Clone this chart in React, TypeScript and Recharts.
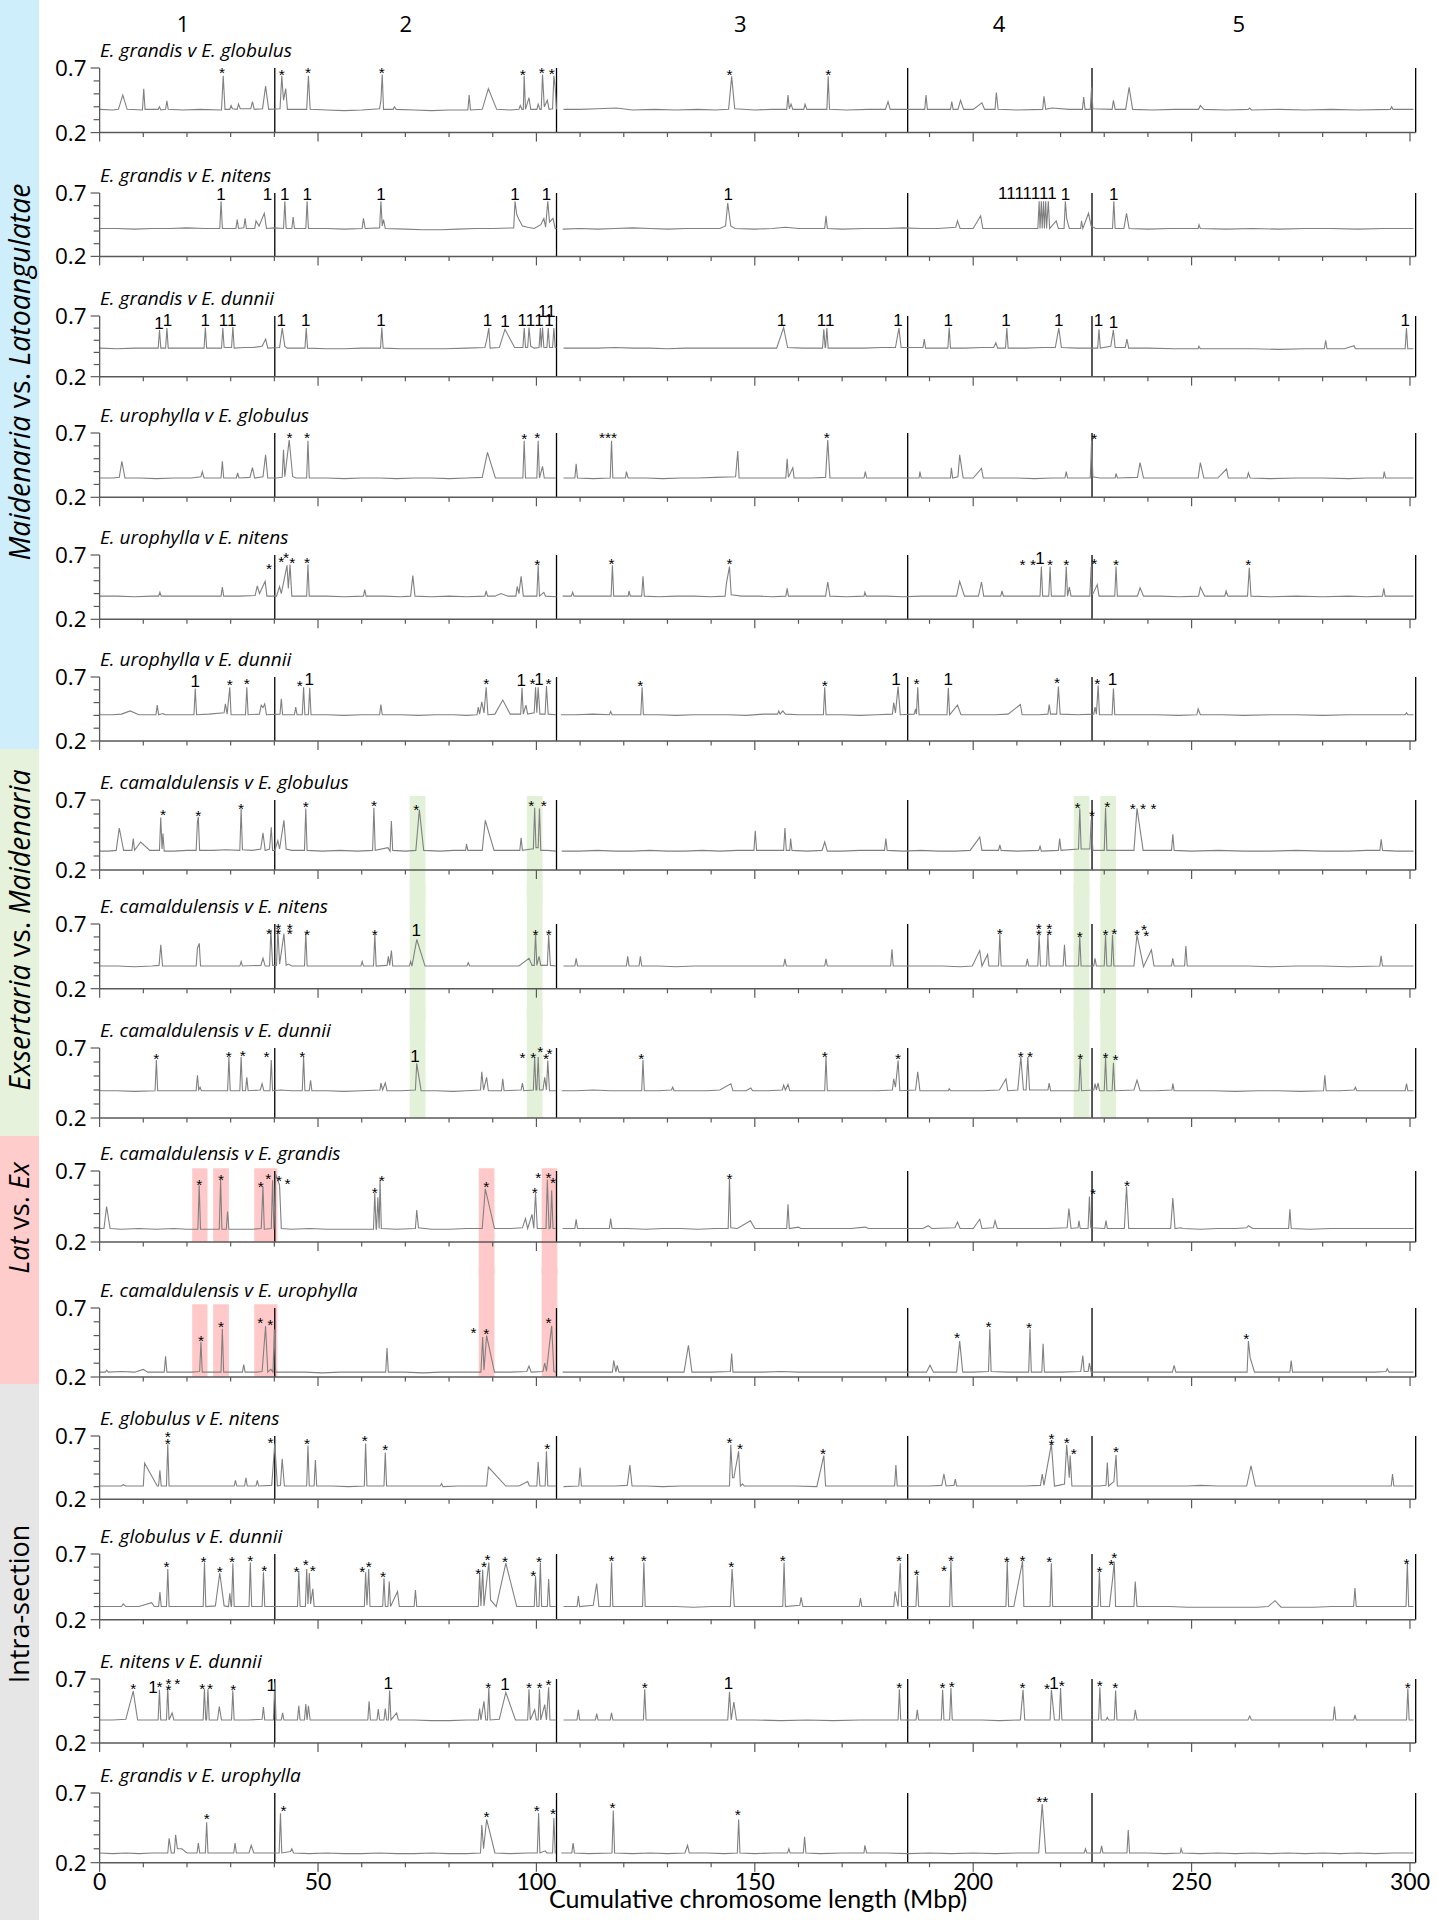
import React from "react";
import {
  LineChart, Line, XAxis, YAxis, ReferenceLine, ReferenceArea, ReferenceDot,
} from "recharts";

// page / scale constants
const W = 1437;
const H = 1920;
const PLOT_LEFT = 99.6;
const PLOT_RIGHT = 1415.7;
const X_MAX = 301.3;
const X_TICKS = [0, 10, 20, 30, 40, 50, 60, 70, 80, 90, 100, 110, 120, 130, 140, 150, 160, 170, 180, 190, 200,
  210, 220, 230, 240, 250, 260, 270, 280, 290, 300];
const Y_TICKS = [0.2, 0.3, 0.4, 0.5, 0.6, 0.7];
const CHROM_ENDS = [40.1, 104.6, 185, 227.2, 301.3];
const CHROM_NAMES = ["1", "2", "3", "4", "5"];
const CHROM_MIDS = [19.1, 70.1, 146.7, 205.9, 260.8];

const LINE = "#808080";
const AXIS = "#595959";
const GREEN = "#e3f1d8";
const PINK = "#ffc9c9";

const TITLES = [
  ["E. grandis", "E. globulus"], ["E. grandis", "E. nitens"], ["E. grandis", "E. dunnii"],
  ["E. urophylla", "E. globulus"], ["E. urophylla", "E. nitens"], ["E. urophylla", "E. dunnii"],
  ["E. camaldulensis", "E. globulus"], ["E. camaldulensis", "E. nitens"], ["E. camaldulensis", "E. dunnii"],
  ["E. camaldulensis", "E. grandis"], ["E. camaldulensis", "E. urophylla"],
  ["E. globulus", "E. nitens"], ["E. globulus", "E. dunnii"], ["E. nitens", "E. dunnii"],
  ["E. grandis", "E. urophylla"],
];
// pixel rows of the 0.7 and 0.2 levels of each panel
const TOPS = [67.7, 193.3, 316, 433, 554.7, 676.7, 800, 924.3, 1047.7, 1170.7, 1307.7, 1435.7, 1554.3, 1679.3, 1793];
const BOTTOMS = [132.3, 256.7, 376.7, 497.3, 619, 740.7, 870, 989, 1117.7, 1241.7, 1376.7, 1499, 1620, 1743.3, 1862.7];

// highlighted windows (Mbp)
const GREEN_STRIPS = [[71.0, 74.6], [97.8, 101.4], [223.0, 226.6], [229.1, 232.7]];
const PINK_SHORT = [[21.2, 24.7], [26.0, 29.6], [35.4, 40.7]];
const PINK_LONG = [[86.8, 90.4], [101.2, 104.8]];

// series: flat pairs of Mbp, value x100 (null = gap)
const P1 = [0,38, 3,37.5, 4.3,38, 5.3,49, 6.3,38, 9.8,37.5, 10.1,54, 10.4,38, 13.4,38, 13.7,40, 14,37.5, 15.1,38, 15.4,44.5, 15.7,38, 19,37.5, 23,38, 27.9,37.5, 28.3,64, 28.7,38, 29.8,38, 30.1,41, 30.4,38.5, 31.5,38, 31.8,42, 32.2,38.5, 34.6,38.5, 35,44, 35.4,38, 37.3,38.5, 38,56, 38.7,38, 41.3,38.5, 41.7,64, 42.1,45, 42.6,54, 43,38, 47.4,38, 47.8,64, 48.2,38, 52,37.5, 56,37, 60,37.5, 64.1,38.5, 64.4,45, 64.7,65, 65,38, 67.2,38, 67.5,40, 67.9,38, 72,37.5, 76,37, 80,37.5, 84.3,37.5, 84.6,49, 84.9,37.5, 87.6,38, 89,54, 90.9,38, 94,37.5, 96,38, 96.3,41, 96.7,38, 97,38, 97.2,64, 97.5,38, 98.3,47, 98.7,38, 100.1,38, 100.4,42, 100.8,38, 101.1,38, 101.4,65, 101.8,40, 102.5,45, 102.9,38, 103.7,38.5, 104,64, 104.3,55, 104.6,38, 105.2,null, 106.2,38, 110,38, 114,38.5, 118.3,39, 122,37.5, 127,38, 132,37.5, 137,38, 141,37.5, 144,38, 144.7,63.5, 145.4,38.5, 150,37.5, 154,38, 157.3,38, 157.6,49, 157.9,38.5, 158.3,42, 158.7,38, 161.2,38, 161.5,42, 161.9,38, 166.5,38, 166.8,63.5, 167.1,38, 171,37.5, 176,38, 179.9,38, 180.5,44, 181,38, 185,38, 188.9,38, 189.2,49, 189.5,38, 194.8,38, 195.1,44, 195.4,38, 196.5,38, 197.1,45, 197.8,38, 200,38, 202,43, 202.6,38, 205,38, 205.3,51, 205.7,38, 210,37.5, 215.9,38, 216.2,48, 216.6,38, 218,39, 222,38, 225,38, 225.3,47.5, 225.6,38, 226.8,38, 227.1,55, 227.4,38.5, 231.8,38, 232.1,45, 232.5,38, 234.9,38, 235.7,55, 236.5,38, 241,37.5, 246,38, 251.6,38, 252,41, 252.8,38, 258,37.5, 263,38, 263.3,39, 263.7,37.5, 270,38, 276,37.5, 282,38, 288,37.5, 295.5,38, 295.8,40, 296.1,38, 300.8,38];
const P2 = [0,42, 4,42, 8,41.5, 12,42, 16,42, 20,42.5, 24,42, 27.5,42, 27.8,63.5, 28.1,42, 31.2,42, 31.5,49, 31.8,42, 33,42.5, 33.3,50, 33.6,42, 35.5,42, 35.8,48, 36.5,44, 37.7,54, 38.2,42, 40,42.5, 42.1,42, 42.4,63.5, 42.7,42, 44,42, 44.3,51, 44.6,42, 47.2,42, 47.5,63.5, 47.8,42, 52,42, 56,41.5, 60.1,42, 60.4,50, 60.8,42, 64.1,42.5, 64.4,63.5, 64.7,44, 65,49, 65.4,42, 70,41.5, 74,41, 78,41, 82,41.5, 86,42, 90,42, 94.8,42.5, 95.1,63.5, 95.5,53, 96,49, 96.8,44, 98,43, 99.5,42, 101,45, 101.7,50, 102.1,43, 102.6,63.5, 103,47, 103.8,50, 104.3,42, 104.6,42, 105.2,null, 106,41.5, 110,42, 114,41.5, 118,42, 122,42.5, 126,42, 130,41.5, 134,42, 138,42, 142,42, 143.3,44, 143.8,62, 144.5,44, 145.5,42, 150,41.5, 154,42, 157,43, 160,42, 163,42, 166,42, 166.3,52, 166.6,42, 170,41.5, 175,42, 180,42, 184,42.5, 188,42, 192,42, 196,43, 196.4,48, 197,42, 200,42, 201.7,52, 202.2,42, 206,42, 210,42, 214.8,42, 215.1,63.5, 215.3,42, 215.6,63.5, 215.8,42, 216.1,63.5, 216.3,42, 216.6,63.5, 216.8,42, 217.2,63.5, 217.5,42, 219,48, 219.5,42, 220.8,42, 221.1,63.5, 221.4,50, 222,42, 224.6,42, 224.8,48, 225.1,42, 226.4,54, 227,44, 228,42, 231.9,42, 232.2,63.5, 232.5,42, 234.5,42, 235.1,54, 235.7,42, 240,41.5, 245,42, 251.5,42, 251.7,45, 252,42, 258,41.5, 264,42, 270,41.5, 276,42, 282,42, 288,41.5, 294,42, 300.8,42];
const P3 = [0,43.5, 4,43, 8,43.5, 12,43.5, 13.4,43.5, 13.7,58.5, 14,43.5, 15.1,43.5, 15.4,60, 15.7,43.5, 19,43.5, 23.9,43.5, 24.2,60.5, 24.5,43.5, 27.9,43.5, 28.2,60, 28.5,44, 30.2,44, 30.5,61, 30.8,43.5, 33,44, 35,44, 37.2,45, 38,51, 38.5,43.5, 41.2,44, 41.8,60, 42.4,45, 43,43.5, 47,43.5, 47.3,60, 47.6,43.5, 52,43, 56,43, 60,43.5, 64.3,43.5, 64.6,60.5, 64.9,43.5, 69,43, 74,43, 79,43, 84,43.5, 88.2,44, 88.6,50, 89.1,60, 89.4,43.5, 91.5,44, 92.8,59, 95,44, 96.9,44, 97.2,60, 97.5,44, 98,44, 98.3,60.5, 98.7,45, 99.5,43.5, 100.6,44, 100.9,60, 101.1,44, 101.4,60.5, 101.7,44, 102.4,44, 102.7,60, 103,44, 103.7,44, 104,60, 104.3,44, 104.6,44, 105.2,null, 106.2,43.5, 110,43.5, 114,43.5, 118,44, 122,43.5, 126,43.5, 130,43, 134,43.5, 138,43.5, 142,43.5, 146,43.5, 150,43.5, 155,43.5, 156.6,60.5, 157.5,44, 161,43.5, 165.5,43.5, 165.8,59, 166.1,44, 166.2,44, 166.5,60, 166.8,43.5, 170,43.5, 175,43.5, 179,44, 182.2,44, 183,60, 183.5,44, 186,44, 188.5,44, 188.8,51, 189.1,43.5, 192,43.5, 194.2,43.5, 194.5,60.5, 194.8,43.5, 198,43.5, 202,44, 204.7,44, 205.2,48, 205.6,43.5, 207.4,43.5, 207.7,60, 208,43.5, 212,43.5, 216,44, 218.8,44, 219.6,60, 220.2,44, 224,43.5, 228.5,43.5, 228.8,59, 229.1,43.5, 231.5,45, 232.1,58.5, 232.5,44, 234.8,44, 235.2,51, 235.6,43.5, 240,43.5, 246,43, 251.5,43, 251.7,45, 252,43, 258,43, 264,43, 270,42.5, 276,43, 280.4,43, 280.7,50, 281,43, 285,43, 287.2,45.5, 287.5,43, 292,43, 296,43, 298.9,43, 299.2,60, 299.5,43, 300.8,43];
const P4 = [0,35, 3,35, 4.5,35.5, 5.1,48, 5.8,35, 9,35, 13,34.5, 17,35, 21,35, 23.2,36, 23.5,40, 23.9,35, 27.8,35, 28.1,48, 28.4,35, 31.3,35, 31.6,39, 31.9,35, 34.4,35.5, 35,43, 35.5,35, 37.4,36, 38,53, 38.5,35, 40.5,35, 41.8,35.5, 42.1,57, 42.4,36, 43.4,64.5, 44.2,36, 45,35, 47.4,35, 47.7,64, 48,35, 52,35, 56,34.5, 60,35, 64,35, 68,34.5, 72,35, 76,35, 80,34.5, 84,35, 87.6,35.5, 88.8,55, 90.6,35, 94,35, 96.9,35, 97.2,64, 97.5,35, 100.1,35, 100.4,64, 100.7,35, 101.4,44, 101.8,35, 104.4,35, 105.2,null, 106.2,35, 108.8,35, 109.1,46, 109.4,35, 113,34.5, 116.9,35, 117.2,64, 117.5,35, 120.4,35, 120.6,40, 121,35, 125,35, 129,34.5, 133,35, 137,35, 141,35.5, 145.6,36, 146.1,56, 146.4,35, 150,35, 154,35, 157.1,35, 157.4,50, 157.7,35.5, 158.7,43, 159,35, 163,35, 166.2,35.5, 166.7,64.5, 167.2,35, 171,35, 175,35, 175.3,40, 175.6,35, 180,35, 184,35, 187.6,35, 187.8,40, 188.1,35, 192,35, 194.8,35, 195,43, 195.3,35, 196.5,36, 196.9,53, 197.7,35, 200,35, 201.9,42.5, 202.3,35, 206,35, 210,35, 214,34.5, 218,35, 221,35, 221.3,40, 221.6,35, 224,35, 226.8,35, 227.1,64, 227.4,36, 229,35, 232.5,35, 232.7,38.5, 233,35, 237.6,35.5, 238.2,47, 239,35, 243,35, 247,35, 251.5,35, 252,47, 252.8,35, 256,35, 258,42, 258.4,35, 262.7,35, 263,39, 263.4,35, 268,34.5, 274,35, 280,35, 286,34.5, 290,35, 293.9,35, 294.1,40, 294.4,35, 296,35, 300.8,35];
const P5 = [0,38, 4,38, 8,37.5, 12,38, 13.5,38, 13.8,41, 14.1,38, 18,38, 22,38, 25,38, 27.8,38, 28.1,45, 28.4,38, 32,38, 35.6,38.5, 36.1,46, 36.6,40, 37.9,49.5, 38.3,38, 40.5,38, 41.2,45.5, 41.6,40, 42.9,62, 43.2,44, 43.6,62.5, 44,38, 47.4,38, 47.7,62.5, 48,38, 52,38, 56,37.5, 60.4,38, 60.7,43, 61,38, 65,38, 69,37.5, 71.2,38, 71.7,54, 72.2,38, 76,37.5, 80,38, 84,37.5, 88.2,38, 88.5,42, 88.8,38, 90.5,38, 91.9,40, 93.5,38, 95.3,38, 95.6,45.5, 96,40, 96.5,53.5, 97,38, 100.1,38, 100.4,62, 100.7,38, 101.7,41, 102.1,38, 104.6,37.5, 105.2,null, 106,38, 108,38, 108.3,41, 108.6,38, 112,38, 117.1,38, 117.4,62, 117.7,38, 121,38, 121.2,42, 121.5,38, 124.1,38, 124.4,53.5, 124.7,38, 128,37.5, 132,38, 136,38, 140,37.5, 143.2,38, 143.5,48, 144.2,61, 144.6,39, 147,38, 151,38, 154,37.5, 157.1,38, 157.4,44, 157.7,38, 162,38, 166.2,38, 166.7,49, 167.2,38, 171,37.5, 175,38, 175.2,41, 175.5,38, 180,38, 184,37.5, 188,38, 192,38, 196.2,38, 196.9,49.5, 198,38, 201.2,38, 201.9,49, 202.4,38, 206.3,38, 206.6,42, 206.9,38, 210,38, 215.3,38, 215.6,61, 215.9,38, 217.3,38, 217.6,61, 217.9,38, 221,38, 221.3,61, 221.6,38, 222,45, 222.4,38, 226.7,38, 227,61, 227.3,39, 228.4,47, 228.8,38, 232.4,38, 232.7,61, 233,38, 237.6,38, 238.2,44.5, 239,38, 243,38, 247,37.5, 251.6,38, 252,45, 253,38, 257.6,38, 257.9,42, 258.3,38, 262.8,38, 263.2,60, 263.6,38, 268,37.5, 274,38, 280,37.5, 286,38, 290,37.5, 293.7,38, 294,44, 294.3,38, 297,38, 300.8,38];
const P6 = [0,40.5, 3,40.5, 5,41, 7,43.5, 9,40.5, 12.9,40.5, 13.2,48, 13.5,40.5, 14.5,41.5, 15,40.5, 18,40.5, 21.6,40.5, 21.9,61, 22.2,40.5, 25,41, 28.5,42, 28.8,49, 29.2,41, 29.8,62, 30.1,40.5, 33.4,40.5, 33.7,62, 34,40.5, 36.6,41, 37,48, 37.4,46, 37.8,49, 38.2,40.5, 41.3,41, 41.6,53, 41.9,40.5, 44.6,40.5, 44.9,46.5, 45.2,40.5, 46.4,40.5, 46.7,62, 47,40.5, 47.8,40.5, 48.1,61.5, 48.4,40.5, 52,40.5, 56,40, 60,40.5, 64.1,40.5, 64.4,48.5, 64.7,40.5, 69,40.5, 73,40, 77,40.5, 81,40.5, 84,40, 86.4,40.5, 86.7,46.5, 87,41, 87.5,50.5, 88,42, 88.5,62, 88.9,40.5, 90.5,41, 92.3,52, 94,41, 96.4,41, 96.7,61.5, 97,41, 97.6,48, 98,41, 99.5,42, 99.8,62, 100.1,42, 100.4,62, 100.8,41, 102,41, 102.3,63, 102.7,41, 104.5,40.5, 105.2,null, 105.6,40.5, 109,40.5, 113,41, 116.7,40.5, 117,43, 117.3,40.5, 121,40.5, 123.9,40.5, 124.2,62, 124.5,40.5, 128,40.5, 132,40, 136,40.5, 140,40.5, 144,40.5, 148,40, 152,41, 155.2,41, 155.5,43.5, 155.8,41, 156.4,43.5, 157,41, 160,40.5, 163,40.5, 165.7,40.5, 166,62, 166.3,40.5, 170,40.5, 174,40, 178,40.5, 181.5,41, 181.8,50, 182.2,42, 182.8,62.5, 183.3,40.5, 186.5,41, 186.8,45, 187,41, 187.3,62, 187.6,40.5, 190,40.5, 194,40.5, 194.3,61.5, 194.6,40.5, 196.4,48, 197.2,40.5, 201,40.5, 205,40.5, 208,41, 210.8,48.5, 211.2,40.5, 215,40.5, 217.1,41, 217.4,48.5, 217.7,41, 219.1,41, 219.5,62.5, 219.9,41, 224,40.5, 227.6,41, 227.9,46.5, 228.2,41, 228.6,63.5, 228.9,40.5, 231.8,40.5, 232.1,61, 232.4,40.5, 237,40.5, 242,40.5, 247,40, 251.2,40.5, 251.5,45, 252,40.5, 257,40.5, 262,40, 268,40.5, 274,40.5, 280,40, 286,40.5, 292,40.5, 298.9,40.5, 299.2,42, 299.5,40.5, 300.8,40.5];
const P7 = [0,33.5, 2,33.5, 3.8,34, 4.5,50, 5.5,34, 7.4,34, 7.7,42.5, 8,34, 9.4,40, 11.5,34, 13.7,34, 14,57.5, 14.3,35, 14.5,46, 14.8,33.5, 17,33.5, 20,34, 22.1,34, 22.4,54.5, 22.6,58, 22.9,34, 26,34, 29,34.5, 32.1,34, 32.4,63.5, 32.7,34.5, 35,34, 36.9,35, 37.4,46.5, 37.9,34, 38.9,35, 39.3,50.5, 39.6,34, 40.1,34, 40.8,41, 41.2,35, 42.2,55.5, 42.7,35, 44,34, 46.9,34, 47.2,64, 47.5,34, 51,33.5, 55,34, 59,33.5, 62.5,34, 62.8,64.5, 63.1,34, 66,36, 66.5,33.5, 66.8,55, 67.1,34, 70,33.5, 72.4,34, 73.2,63, 74.2,34, 78,33.5, 81,34, 83.8,34, 84,38.5, 84.3,34, 87.6,34, 88.3,55.5, 90.3,34, 93,34, 96.2,34, 96.5,43, 96.8,34, 98.8,35, 99.3,35, 99.6,64.5, 99.9,36, 100.4,36, 100.7,64, 101,34, 102.5,34, 104.5,33.5, 105.2,null, 105.8,33.5, 110,33.5, 114,34, 118,33.5, 122,33.5, 126,34, 130,33.5, 134,33.5, 138,34, 142,33.5, 146,34, 149.8,34, 150.1,48, 150.4,34, 154,34, 156.6,34, 156.9,50, 157.2,34, 158,34, 158.2,42.5, 158.5,34, 162,33.5, 165.4,34, 166,40, 166.6,33.5, 170,33.5, 174,34, 179.7,34, 180,42.5, 180.3,34, 184,33.5, 188,34, 192,33.5, 196,33.5, 199.3,34, 201.5,43.5, 202,34, 205.8,34, 206.1,38, 206.4,34, 210,33.5, 215,34, 215.3,37, 215.6,33.5, 219.5,34, 219.8,42.5, 220.1,34, 224.1,35, 224.4,64, 224.7,35, 226.7,35, 227,56, 227.4,34, 230,34, 230.3,64.5, 230.6,34, 234,34, 236.8,34, 237.5,64, 238.9,34, 242,34, 245.4,34, 245.7,45.5, 246,34, 250,33.5, 256,34, 262,33.5, 268,33.5, 274,34, 280,33.5, 286,33.5, 290,34, 293.1,34, 293.4,42, 293.7,34, 297,33.5, 300.8,33.5];
const P8 = [0,37.5, 4,37.5, 8,37, 12,37.5, 13.6,38, 14,54, 14.4,37.5, 18,37.5, 22.1,37.5, 22.4,51.5, 22.8,55, 23.1,37.5, 27,37.5, 32.1,37.5, 32.4,41, 32.7,37.5, 36.9,38, 37.4,43.5, 37.9,37.5, 38.9,37.5, 39.2,65.5, 39.6,38, 40.5,38, 40.8,65.5, 41.2,39, 42.2,62.5, 42.7,38, 43.2,39, 44,37.5, 46.9,37.5, 47.2,63, 47.5,37.5, 52,37.5, 56,37.5, 59.8,37.5, 60.1,41, 60.4,37.5, 62.7,37.5, 63,62.5, 63.3,37.5, 65.8,38, 66.1,45, 66.4,38, 66.8,49.5, 67.1,37.5, 70.9,37.5, 71.2,41, 71.5,37.5, 72.6,58, 74.5,37.5, 78,37.5, 82,37.5, 84.1,37.5, 84.4,40, 84.7,37.5, 88,37.5, 92,37.5, 96,37.5, 98.3,43.5, 99,38, 99.5,38, 99.8,62.5, 100.1,38, 100.6,45, 101,38, 102.5,38, 102.8,61.5, 103.2,38, 104.5,37.5, 105.2,null, 106.2,37.5, 108.8,37.5, 109.1,43.5, 109.4,37.5, 113,37.5, 117,37.5, 120.6,37.5, 120.9,45, 121.2,37.5, 123.5,37.5, 123.8,45, 124.1,37.5, 128,37.5, 132,37, 136,37.5, 140,37.5, 144,37.5, 148,37.5, 152,37.5, 156.6,37.5, 156.9,43, 157.2,37.5, 161,37.5, 166,37.5, 166.3,43, 166.6,37.5, 171,37.5, 176,37.5, 181.1,37.5, 181.4,50.5, 181.7,37.5, 185,37.5, 189,37.5, 193,37.5, 197,37, 199.8,37.5, 201.5,49.5, 202,37.5, 203.3,46.5, 203.6,37.5, 205.8,37.5, 206.1,62.5, 206.4,37.5, 210,37.5, 212.1,37.5, 212.4,43, 212.7,37.5, 214.8,37.5, 215.1,61.5, 215.4,37.5, 216.8,37.5, 217.1,62.5, 217.4,37.5, 220.6,37.5, 220.9,54, 221.2,37.5, 224.1,37.5, 224.4,60.5, 224.7,37.5, 227.6,37.5, 227.9,43.5, 228.2,37.5, 230,37.5, 230.3,61.5, 230.6,37.5, 231.6,37.5, 231.9,61.5, 232.2,37.5, 236.8,37.5, 237.5,61.5, 239,37, 240.8,50, 241.4,37.5, 245.4,37.5, 245.7,43.5, 246,37.5, 248.4,37.5, 248.7,53, 249,37.5, 253,37.5, 258,37.5, 263,37.5, 268,37, 274,37.5, 280,37.5, 286,37, 293.1,37.5, 293.4,45.5, 293.7,37.5, 297,37.5, 300.8,37.5];
const P9 = [0,39.5, 4,39.5, 8,39, 12.7,39.5, 13,61.5, 13.3,39.5, 16,39.5, 19,39.5, 22.1,39.5, 22.4,50.5, 22.7,40, 23,42, 23.3,39.5, 26,39.5, 29.3,39.5, 29.6,63.5, 29.9,39.5, 32.1,39.5, 32.4,63.5, 32.7,39.5, 33.4,39.5, 33.7,49, 34,39.5, 36.8,40, 37.2,44.5, 37.6,39.5, 39,39.5, 39.3,61.5, 39.6,39.5, 41.5,40, 44,39.5, 46.4,39.5, 46.7,63.5, 47,39.5, 48,39.5, 48.3,47, 48.6,39.5, 52,39.5, 56,39, 60,39.5, 64.2,40, 64.4,45, 64.8,40, 65.4,45, 65.8,39.5, 69,39.5, 72.3,40, 72.6,59, 73.6,39.5, 77,39.5, 81,39, 84,39.5, 87.2,40, 87.5,53, 87.9,40, 88.6,49, 89,39.5, 92,39.5, 92.3,48, 92.6,39.5, 96.5,40, 96.8,45, 97.1,39.5, 99.3,40, 99.6,63.5, 99.9,40, 100.1,40, 100.4,63.5, 100.7,40, 101.5,40, 101.9,49, 102.3,40, 102.6,61, 103,39.5, 104.5,39.5, 105.2,null, 105.8,39.5, 109,39.5, 113,40, 117,39.5, 121,39.5, 124.1,39.5, 124.4,61.5, 124.7,39.5, 128,39.5, 130.9,40, 131.2,42, 131.5,39.5, 135,39.5, 139,39.5, 142,40, 144.5,44.5, 145,39.5, 148,39.5, 149.1,41.5, 149.5,39.5, 153,39.5, 156.3,40, 156.6,43.5, 157,40, 157.6,44, 158,39.5, 162,39.5, 166,39.5, 166.3,63.5, 166.6,39.5, 170,39.5, 174,39.5, 178,39.5, 181.5,40, 181.8,48, 182.2,42, 182.8,61, 183.2,39.5, 186.8,40, 187.3,53, 187.8,39.5, 191,39.5, 194.3,39.5, 194.5,41, 194.8,39.5, 198,39.5, 202,39.5, 206,40, 207.5,48, 207.9,39.5, 210.2,40, 210.9,63.5, 211.5,40, 212.1,40, 212.5,63.5, 212.9,40, 217.1,40, 217.4,45, 217.7,39.5, 221,39.5, 224.2,39.5, 224.5,62.5, 224.8,39.5, 227.6,40, 227.9,44.5, 228.2,40, 228.6,45, 228.9,39.5, 230,39.5, 230.3,63.5, 230.6,39.5, 231.8,39.5, 232.1,59.5, 232.4,39.5, 236.8,40, 237.5,47, 238.2,39.5, 242,39.5, 245.5,40, 245.7,44.5, 246,39.5, 250,39.5, 255,39.5, 260,39, 265,39.5, 270,39.5, 275,39, 280.2,39.5, 280.5,50.5, 280.8,39.5, 284,39.5, 287.2,40, 287.5,42, 287.8,39.5, 292,39.5, 296,39.5, 298.9,39.5, 299.2,44.5, 299.5,39.5, 300.8,39.5];
const P10 = [0,29.5, 1,29.5, 1.6,45, 2.4,29.5, 5,29, 9,29.5, 13,29, 17,29.5, 20,29, 22.5,29, 22.8,60, 23.1,29, 25,29, 27.4,29, 27.7,64, 28,29, 29,29, 29.3,41.5, 29.6,29, 32,29, 35,29, 37,29.5, 37.4,59, 37.7,29, 39.3,29.5, 39.6,63.5, 39.9,29, 40.3,68, 41.2,60, 41.6,29.5, 44,29, 48,29.5, 52,29, 56,29, 60,29, 62.7,29, 63,54.5, 63.3,29, 63.4,29, 63.7,51.5, 64,29.5, 64.2,64, 64.5,29.5, 68,29, 72.3,29.5, 72.6,42.5, 73,30, 76,29, 80,29, 84,29.5, 87.6,29.5, 88.3,57.5, 90.4,29.5, 94,29.5, 96.8,30, 97.5,36.5, 98,29.5, 99,39.5, 99.4,29.5, 99.8,54.5, 100.2,29.5, 102.2,29.5, 102.5,64, 102.9,29.5, 103.2,30, 103.5,56.5, 103.8,29.5, 104.4,29.5, 105.2,null, 106,29.5, 108.8,29.5, 109.1,36, 109.4,29.5, 113,29.5, 116.7,29.5, 117,36.5, 117.3,29.5, 121,29.5, 125,29, 129,29.5, 133,29.5, 137,29, 141,29.5, 143.9,29.5, 144.2,64.5, 144.5,30, 146,29.5, 149,35, 150,29.5, 154,29.5, 157.3,29.5, 157.6,46.5, 157.9,29.5, 160,30.5, 160.5,29.5, 164,29.5, 168,29.5, 172,29.5, 175.3,30.5, 176,29.5, 180,29.5, 184,29.5, 188.5,29.5, 189.7,31.5, 190.5,29.5, 195.8,30, 196.4,34, 197,29.5, 200,29.5, 201.5,36, 202,29.5, 204.6,30, 205,35, 205.5,29.5, 209,29.5, 213,29.5, 217,29.5, 221.5,30, 221.9,43.5, 222.4,29.5, 224,30, 224.2,35, 224.5,29.5, 226.3,29.5, 226.6,52, 226.9,30, 230.1,29.5, 230.4,35, 230.7,29.5, 234.6,29.5, 235.1,59, 235.6,29.5, 240,29.5, 245.2,29.5, 245.7,51, 246.2,29.5, 247.5,30, 248,29.5, 252,29, 256,29.5, 260,29.5, 262.6,30, 263,31.5, 264,29.5, 268,29.5, 272.2,29.5, 272.5,43, 272.8,29.5, 277,29, 282,29.5, 287,29.5, 292,29.5, 296,29.5, 300.8,29.5];
const P11 = [0,23.5, 1.3,23.5, 1.6,25, 2,23.5, 5,24, 8,23.5, 10,25.5, 11,23.5, 14.8,23.5, 15.1,35, 15.4,23.5, 18,23.5, 21,23.5, 22.9,24, 23.2,45.5, 23.5,23.5, 25,23.5, 27.8,23.5, 28.1,55, 28.4,23.5, 30,23.5, 32.7,23.5, 33,29, 33.3,23.5, 36,23.5, 37.2,24, 38,57, 38.5,23.5, 39.2,25.5, 39.7,23.5, 40,54.5, 40.3,23.5, 43,23.5, 47,23.5, 51,23, 55,23.5, 59,23.5, 63,23.5, 65.5,23.5, 65.8,41, 66.1,23.5, 70,23.5, 74,23, 78,23.5, 82,23.5, 86,23.5, 87.3,23.5, 87.7,49, 88,25, 88.6,50, 90.4,23.5, 94,23.5, 97.8,24, 98.3,28, 98.8,23.5, 101.5,24, 101.9,30, 102.3,24, 103,44, 103.5,57, 104,24, 104.5,23.5, 105.2,null, 106,23.5, 110,23.5, 114,23.5, 117.4,23.5, 117.7,32, 118.2,23.5, 118.5,28.5, 118.9,23.5, 122,23.5, 126,23.5, 130,23.5, 133.8,23.5, 134.8,43, 135.6,23.5, 140,23.5, 144.4,24, 144.7,37, 145,23.5, 148,23.5, 152,23.5, 156,24, 160,23.5, 164,23.5, 168,23.5, 172,23.5, 176,23.5, 180,23.5, 184,23.5, 189.3,23.5, 190.1,28.5, 190.9,23.5, 196.2,23.5, 196.9,46, 197.6,23.5, 200,23.5, 203.5,24, 203.8,54.5, 204.1,24, 208,23.5, 212.7,23.5, 213,54.5, 213.3,23.5, 215.7,23.5, 216,44, 216.3,23.5, 220,23.5, 224.6,24, 224.8,28, 225.1,35.5, 225.4,24, 226.3,24, 226.6,30, 227,23.5, 230,23.5, 234,23.5, 238,23.5, 242,23.5, 245.6,23.5, 246,28.5, 246.4,23.5, 250,23.5, 254,23.5, 258,23.5, 262.7,23.5, 263,46, 263.4,34, 264.4,23.5, 268,23.5, 272.5,23.5, 272.8,32, 273.1,23.5, 277,23.5, 282,23.5, 287,23.5, 292,23.5, 294.5,24, 294.8,26, 295.2,23.5, 300.8,23.5];
const P12 = [0,30.5, 3,30.5, 5,30.5, 5.4,31.5, 6,30.5, 8,30.5, 10,30.5, 10.3,48.5, 13.2,30.5, 13.5,30.5, 13.8,43, 14.1,30.5, 15.3,30.5, 15.6,63.5, 15.9,30.5, 19,30.5, 23,30.5, 27,30.5, 30.8,30.5, 31.1,35, 31.4,30.5, 33.2,30.5, 33.5,37, 33.8,30.5, 35.8,30.5, 36.1,35, 36.4,30.5, 39.4,31, 40.1,64, 40.7,30.5, 41.4,31, 41.8,52, 42.3,30.5, 45,30.5, 47.4,30.5, 47.7,62.5, 48,30.5, 49.1,30.5, 49.4,51, 49.7,30.5, 53,30.5, 57,30, 60.6,30.5, 60.9,64, 61.2,30.5, 65.1,30.5, 65.4,57, 65.7,30.5, 69,30.5, 73,30.5, 78,30.5, 78.3,32.5, 78.6,30, 82,30.5, 86,30.5, 88.6,30.5, 89,45.5, 93,30.5, 96,30.5, 98,34, 98.4,30.5, 100.1,30.5, 100.4,49.5, 100.8,30.5, 102,30.5, 102.3,58, 102.6,30.5, 104.5,30.5, 105.2,null, 106.2,30, 109.7,30.5, 110,45, 110.3,30.5, 114,30.5, 118,30.5, 120.8,31, 121.4,47, 121.9,30.5, 125,30.5, 129,30, 133,30.5, 137,30.5, 141,30.5, 144.2,30.5, 144.5,63, 144.9,37, 145.2,37, 146.3,58, 146.7,30.5, 147.2,32, 147.6,30.5, 151,30.5, 155,30.5, 159,30.5, 164.2,30, 165.8,54.5, 166.2,30.5, 170,30.5, 174,30.5, 178,30.5, 182,30.5, 182.3,47, 182.6,30.5, 186,30.5, 190,30.5, 192.8,31, 193.3,40, 193.8,30.5, 195.6,31, 195.9,36, 196.2,30.5, 200,30.5, 204,30.5, 208,30.5, 212,30.5, 215.4,31, 215.8,40, 216.2,31, 217.9,64, 218.6,30.5, 219.5,31, 220.9,32, 221.4,63, 222,37, 222.2,54.5, 222.6,30.5, 226,30.5, 229,30.5, 230.4,31, 230.7,49, 231,30.5, 232.2,34, 232.7,55, 233,30.5, 237,30.5, 241,30.5, 245,30.5, 249,30.5, 252,31, 256,30.5, 260,30.5, 262.6,30.5, 263.6,46.5, 264.6,30.5, 269,30.5, 274,30.5, 279,30.5, 284,30.5, 289,30.5, 293,30.5, 295.7,30.5, 296,40, 296.3,30.5, 300.8,30.5];
const P13 = [0,30, 3,30, 5,30, 5.4,32, 6,30, 9,30, 11.9,33, 12.5,30, 13.5,30, 13.8,41, 14.1,30, 15.3,30, 15.6,58.5, 15.9,30, 19,30, 23.7,30, 24,63.5, 24.3,30, 26.5,30.5, 27.5,55.5, 28.5,30.5, 29.5,30, 29.8,40, 30.1,30, 30.2,30, 30.5,63, 30.8,30, 34.2,30, 34.5,63.5, 34.8,30, 37.2,30, 37.5,56, 37.8,30, 41,30, 45.3,30, 45.6,57, 45.9,30, 47.1,30, 47.4,58.5, 47.7,32, 48,55.5, 48.3,32, 48.8,43.5, 49.1,30, 53,30, 57,30, 60.6,30, 60.9,56, 61.2,31, 61.6,58.5, 61.9,30, 64.8,30, 65.1,51.5, 65.4,30, 66,30, 66.3,49, 66.6,30, 68.2,41.5, 68.6,30, 72,30, 72.3,42.5, 72.6,30, 76,30, 80,30, 84,30, 86.7,30, 87,55, 87.3,30.5, 87.7,58, 88,30.5, 89.1,63.5, 89.5,35, 90.8,30, 93,63, 95.5,30, 99.5,30, 99.8,53, 100.1,30, 100.6,30, 100.9,63.5, 101.2,30, 102.5,30, 102.8,51, 103.1,30, 104.5,30, 105.2,null, 106.2,30, 109.3,30, 109.6,38, 109.9,30, 113,31, 113.8,47.5, 114.3,30, 116.9,30, 117.2,63.5, 117.5,30, 121,30, 124.3,30, 124.6,63.5, 124.9,30, 128,30, 132,30, 136,29.5, 140,30, 144.4,30, 144.8,58.5, 145.3,30, 149,30, 153,30, 156.4,30, 156.7,63.5, 157,30, 160.3,31, 160.6,37, 161,30, 165,30, 169,30, 173.9,30, 174.2,36.5, 174.5,30, 178,30, 181.8,30, 182.1,41.5, 182.8,30, 183.3,63, 183.6,30, 186.9,30, 187.2,53.5, 187.5,30, 191,30, 194.6,30, 194.9,64.5, 195.2,30, 199,30, 203,30, 207.5,30, 207.8,64.5, 208.1,30, 209.3,30, 211.3,64.5, 211.6,30, 215,30, 217.6,30, 217.9,63, 218.2,30, 222,30, 226,30, 228.6,30, 228.9,56, 229.2,30, 231.2,30, 231.9,50.5, 232.3,64, 232.6,30, 236.8,30, 237.1,49, 237.5,30, 241,30, 245,30, 249,29.5, 253,29.5, 257,29.5, 261,29.5, 265,29.5, 267.5,30, 269.1,34.5, 270.5,29.5, 274,29.5, 278,29.5, 282,30, 287.1,30, 287.4,44, 287.7,30, 291,30, 295,30, 299.1,30, 299.4,63.5, 299.7,30, 300.8,30];
const P14 = [0,38, 3,38, 6,38.5, 7.7,60.5, 8.7,38, 12,38, 13.4,38, 13.7,61.5, 14,38, 15.3,38, 15.6,63, 15.9,38, 16.6,43.5, 17,38, 20,38, 23.7,38, 24,62, 24.3,38, 24.5,38, 24.8,62, 25.1,38, 27,38, 27.4,48.5, 27.9,38, 30.2,38, 30.5,61, 30.8,38, 34,38, 37.2,38.5, 37.5,48, 37.8,38, 39.8,38, 40.1,67.5, 40.4,38, 41.6,38, 41.9,43.5, 42.2,38, 45.3,38, 45.6,49, 45.9,38, 46.9,38, 47.2,50.5, 47.5,38, 47.8,49, 48.2,38, 50,38, 54,38, 58,38, 61.4,38, 61.7,52.5, 62,38, 63.5,38, 63.8,46.5, 64.1,38, 65.1,38, 65.4,47, 65.7,38, 66.1,38, 66.4,61, 66.7,38, 68,43.5, 68.4,38, 72,38, 76,37.5, 80,37.5, 84,38, 86.7,38, 87,47, 87.3,38, 88,52.5, 88.4,38, 88.8,38, 89.1,63, 89.4,38, 91.5,38.5, 93,59.5, 95.2,38, 98,38, 98.3,62, 98.6,38, 99.6,46, 100,38, 100.4,38, 100.7,62, 101,38, 101.9,50, 102.3,38, 102.8,63.5, 103.1,38, 104.5,38, 105.2,null, 106.2,38, 109.3,38, 109.6,46, 109.9,38, 113.5,38, 113.8,43, 114.1,38, 116.9,38, 117.2,43.5, 117.5,38, 121,38, 124.5,38, 124.8,62, 125.1,38, 128,38, 132,38, 136,38, 140,38, 143.8,38, 144.2,60, 144.6,38, 145.2,52, 145.8,38, 150,38, 156,37.5, 162,38, 168,37.5, 174,38, 179,38, 182.8,38, 183.1,62, 183.4,38, 186.9,38, 187.2,46, 187.5,38, 192.7,38, 193,61.5, 193.3,38, 194.6,38, 194.9,63, 195.2,38, 198,38, 202,38, 206,37.5, 210.8,38, 211.4,61.5, 211.8,38, 215,38, 217.6,38, 217.9,61.5, 218.6,38, 219.7,38, 220,63, 220.3,38, 224,38, 228.7,38, 229,63.5, 229.3,38, 230.4,38, 230.7,40, 231,38, 232.3,38, 232.6,61, 232.9,38, 236.8,38, 237.1,46, 237.5,38, 242,38, 247,38, 252,38, 257,38, 262.9,38, 263.3,41, 263.7,38, 268,38, 273,38, 278,38, 282.4,38, 282.7,48.5, 283,38, 287.1,38, 287.4,42, 287.7,38, 292,38, 296,38, 299.2,38, 299.5,62.5, 299.8,38, 300.8,38];
const P15 = [0,27, 3,26.5, 6,27, 9,26.5, 12,27, 15.6,27, 15.9,37.5, 16.4,27, 17.1,27, 17.4,40, 17.8,30, 18.8,30, 20,27, 22.3,27, 22.6,34, 22.9,27, 24.2,27, 24.5,49, 24.8,27, 28,27, 30.7,27, 31,34, 31.3,27, 34.2,27, 34.7,32.5, 35.3,27, 38,27, 41.1,27, 41.4,55.5, 41.7,27, 43.7,28, 44,30, 44.4,27, 48,26.5, 52,27, 56,26.5, 60,26.5, 64,27, 68,26.5, 72,26.5, 76,27, 80,26.5, 84,26.5, 87.2,27, 87.5,47, 87.9,30, 88.6,51, 90.5,27, 94,26.5, 98,27, 100.2,27, 100.5,55.5, 100.8,27, 102,28.5, 102.4,27, 103.7,27, 104,52, 104.3,27, 104.5,27, 105.2,null, 105.7,27, 108.1,27, 108.4,34, 108.7,27, 112,26.5, 117.3,27, 117.6,57.5, 117.9,27, 122,26.5, 126,27, 130,26.5, 134,27, 134.6,32.5, 135,27, 139,27, 143,26.5, 146,27, 146.3,51, 146.6,27, 150,26.5, 154,27, 157.5,27, 157.8,30, 158.1,27, 161.1,27, 161.4,38.5, 161.7,27, 165,26.5, 170,27, 175,27, 175.2,32.5, 175.6,27, 180,27, 185,26.5, 190,27, 195,26.5, 200,27, 205,26.5, 210,27, 215,27, 215.8,62, 216.6,27, 220,27, 225.4,27, 225.7,30, 226,27, 229.1,27, 229.4,32, 229.7,27, 233,27, 235.2,27, 235.5,43.5, 235.8,27, 240,27, 244,26.5, 247.4,27, 247.6,30, 247.9,27, 252,26.5, 256,27, 260,26.5, 264,27, 268,26.5, 272,27, 276,26.5, 280,27, 284,26.5, 288,27, 292,26.5, 296,27, 300.8,27];

// significance marks: [Mbp, value x100, text]
const N1 = [[28.0,69.5,"*"],[41.7,68,"*"],[47.7,69.5,"*"],[64.6,69.5,"*"],[96.9,67.5,"*"],[101.2,69.5,"*"],[103.5,68.5,"*"],[144.2,68,"*"],[166.8,67.5,"*"]];
const N2 = [[27.8,64.5,"1"],[38.4,64.5,"1"],[42.4,64.5,"1"],[47.5,64.5,"1"],[64.4,64.5,"1"],[95.1,64.5,"1"],[102.3,64.5,"1"],[143.9,64.5,"1"],[212.4,65,"1111111"],[221.1,64.5,"1"],[232.2,64.5,"1"]];
const N3 = [[13.6,59,"1"],[15.5,61.5,"1"],[24.2,62,"1"],[29.3,62,"11"],[41.6,62,"1"],[47.2,62,"1"],[64.4,62,"1"],[88.8,62,"1"],[92.8,61,"1"],[97.7,62,"11"],[100.6,62,"1"],[102.9,62,"1"],[102.4,69,"11"],[156.1,62,"1"],[166.2,62,"11"],[182.8,62,"1"],[194.3,62,"1"],[207.5,61.5,"1"],[219.6,61.5,"1"],[228.7,62,"1"],[232.1,60,"1"],[298.9,62,"1"]];
const N4 = [[43.5,69.2,"*"],[47.5,69.2,"*"],[97.2,68.4,"*"],[100.2,69.2,"*"],[116.4,69.2,"***"],[166.5,69.5,"*"],[227.7,68.4,"*"]];
const N5 = [[38.8,62,"*"],[41.6,67.7,"*"],[42.7,71,"*"],[44.1,66.6,"*"],[47.5,67.2,"*"],[100.2,65.3,"*"],[117.2,66.4,"*"],[144.2,66.4,"*"],[211.3,65.1,"*"],[213.7,65.1,"*"],[215.3,63.3,"1"],[217.6,65.1,"*"],[221.3,65.1,"*"],[227.7,66.4,"*"],[232.7,65.1,"*"],[263.0,65.1,"*"]];
const N6 = [[21.9,62.2,"1"],[29.8,66.9,"*"],[33.7,68,"*"],[45.8,66.1,"*"],[48.0,63.5,"1"],[88.5,67.4,"*"],[96.5,62.7,"1"],[99.1,67.4,"*"],[100.6,63.5,"1"],[102.8,67.4,"*"],[123.8,66.1,"*"],[166.0,66.1,"*"],[182.3,63.5,"1"],[187.0,68,"*"],[194.3,63.5,"1"],[219.2,68.5,"*"],[228.4,67.4,"*"],[231.9,63.5,"1"]];
const N7 = [[14.5,62.4,"*"],[22.6,61.7,"*"],[32.4,66.4,"*"],[47.2,68.1,"*"],[62.8,68.6,"*"],[72.5,66,"*"],[98.8,68.6,"*"],[101.7,68.6,"*"],[223.9,67.1,"*"],[227.2,61.7,"*"],[230.7,68.1,"*"],[238.9,66.4,"* * *"]];
const N8 = [[38.8,65.1,"*"],[40.9,65.1,"*"],[43.5,65.1,"*"],[40.9,69.5,"*"],[43.5,69.5,"*"],[47.5,64.3,"*"],[63.0,64.3,"*"],[72.5,60.5,"1"],[99.8,64.3,"*"],[102.8,64.3,"*"],[206.1,65.6,"*"],[215.0,64.6,"*"],[215.0,69.2,"*"],[217.4,64.6,"*"],[217.4,69.2,"*"],[224.4,62.8,"*"],[230.3,64.3,"*"],[232.3,65.6,"*"],[237.5,64.3,"*"],[239.6,63.6,"*"],[239.1,68.2,"*"]];
const N9 = [[13.0,64.8,"*"],[29.6,66.4,"*"],[32.8,67.1,"*"],[38.2,66.4,"*"],[46.4,66.4,"*"],[72.2,60,"1"],[96.8,66,"*"],[99.3,66,"*"],[100.9,70.2,"*"],[102.2,64.8,"*"],[103.0,68.8,"*"],[124.0,64.8,"*"],[166.0,66.4,"*"],[182.8,64.8,"*"],[210.9,66.4,"*"],[213.0,66.4,"*"],[224.5,64.8,"*"],[230.3,66,"*"],[232.6,64,"*"]];
const N10 = [[22.8,63,"*"],[27.8,66.2,"*"],[36.9,61.5,"*"],[38.6,67.4,"*"],[41.1,65.8,"*"],[43.0,63.4,"*"],[63.0,57.6,"*"],[64.6,65.8,"*"],[88.5,61.5,"*"],[99.6,57.6,"*"],[100.4,68.1,"*"],[102.8,68.1,"*"],[103.8,64.6,"*"],[144.2,67.4,"*"],[227.4,56.4,"*"],[235.2,62.3,"*"]];
const N11 = [[23.2,49,"*"],[27.8,59.1,"*"],[36.8,61.8,"*"],[39.1,60.6,"*"],[85.6,54.5,"*"],[88.5,53.8,"*"],[102.8,61.8,"*"],[196.3,50.9,"*"],[203.5,59.1,"*"],[212.8,58.2,"*"],[262.5,50.2,"*"]];
const N12 = [[15.6,72.6,"*"],[15.6,67.1,"*"],[39.1,67.4,"*"],[47.5,66.6,"*"],[60.7,69.2,"*"],[65.4,62.1,"*"],[102.5,62.6,"*"],[144.2,67.4,"*"],[146.6,62.6,"*"],[165.6,59.2,"*"],[217.9,70.5,"*"],[217.9,66,"*"],[221.4,67.4,"*"],[223.0,59.2,"*"],[232.7,60.5,"*"]];
const N13 = [[15.3,63.1,"*"],[23.8,67,"*"],[27.5,59.3,"*"],[30.3,67,"*"],[34.5,67.7,"*"],[37.7,60.1,"*"],[45.1,59.3,"*"],[47.2,64.9,"*"],[48.8,60.1,"*"],[60.1,59.3,"*"],[61.6,63.1,"*"],[64.9,55.5,"*"],[86.7,58.1,"*"],[88.0,63.1,"*"],[88.8,68.2,"*"],[92.8,67,"*"],[99.3,56.3,"*"],[100.6,67,"*"],[117.2,67.7,"*"],[124.6,67.7,"*"],[144.6,63.1,"*"],[156.4,67.7,"*"],[183.0,67.7,"*"],[187.0,56.8,"*"],[193.3,60.1,"*"],[194.9,67.7,"*"],[207.7,67,"*"],[211.3,67.7,"*"],[217.4,67,"*"],[228.9,59.3,"*"],[231.6,64.4,"*"],[232.3,70.3,"*"],[299.2,65.7,"*"]];
const N14 = [[7.7,65.6,"*"],[12.2,59,"1"],[13.7,66.9,"*"],[15.8,69.5,"*"],[15.8,64.3,"*"],[17.8,69.5,"*"],[23.5,65.6,"*"],[25.3,65.6,"*"],[30.6,64.3,"*"],[39.3,60.4,"1"],[66.1,62.2,"1"],[89.0,66.4,"*"],[92.8,61.7,"1"],[98.3,66.4,"*"],[100.7,66.4,"*"],[102.8,68.7,"*"],[124.8,66.4,"*"],[144.0,62.2,"1"],[183.1,66.4,"*"],[193.0,66.4,"*"],[195.1,66.9,"*"],[211.3,66.4,"*"],[216.9,65.6,"*"],[218.5,62.2,"1"],[220.3,67.4,"*"],[229.0,67.4,"*"],[232.5,66.4,"*"],[299.5,66.4,"*"]];
const N15 = [[24.5,54.4,"*"],[42.1,59.9,"*"],[88.6,56,"*"],[100.1,59.9,"*"],[103.8,58,"*"],[117.4,62.3,"*"],[146.1,56.8,"*"],[215.8,66.4,"**"]];

const SERIES = [P1, P2, P3, P4, P5, P6, P7, P8, P9, P10, P11, P12, P13, P14, P15];
const NOTES = [N1, N2, N3, N4, N5, N6, N7, N8, N9, N10, N11, N12, N13, N14, N15];

const BANDS = [
  { y0: 0, y1: 749, fill: "#cdeefa", parts: [["Maidenaria", true], [" vs. ", false], ["Latoangulatae", true]], cy: 372, fs: 28.5 },
  { y0: 749, y1: 1136, fill: "#e6f2dc", parts: [["Exsertaria", true], [" vs. ", false], ["Maidenaria", true]], cy: 930, fs: 28.5 },
  { y0: 1136, y1: 1384, fill: "#ffcccc", parts: [["Lat", true], [" vs. ", false], ["Ex", true]], cy: 1218, fs: 27 },
  { y0: 1384, y1: 1920, fill: "#e6e6e6", parts: [["Intra-section", false]], cy: 1604, fs: 27 },
];

const px = (mbp: number) => PLOT_LEFT + (mbp / X_MAX) * (PLOT_RIGHT - PLOT_LEFT);

function toRows(flat: (number | null)[]) {
  const rows: { x: number; y: number | null }[] = [];
  for (let i = 0; i < flat.length; i += 2) {
    const v = flat[i + 1];
    rows.push({ x: flat[i] as number, y: v == null ? null : v / 100 });
  }
  return rows;
}

function stripsFor(i: number) {
  const out: { x1: number; x2: number; y1: number; y2: number; fill: string }[] = [];
  if (i >= 6 && i <= 8) {
    const y1 = i === 8 ? 0.2 : -5;
    const y2 = i === 6 ? 0.729 : 5;
    GREEN_STRIPS.forEach(([a, b]) => out.push({ x1: a, x2: b, y1, y2, fill: GREEN }));
  }
  if (i === 9 || i === 10) {
    const topShort = i === 9 ? 0.719 : 0.727;
    PINK_SHORT.forEach(([a, b]) => out.push({ x1: a, x2: b, y1: 0.2, y2: topShort, fill: PINK }));
    PINK_LONG.forEach(([a, b]) =>
      out.push({ x1: a, x2: b, y1: i === 9 ? -5 : 0.2, y2: i === 9 ? 0.719 : 5, fill: PINK }));
  }
  return out;
}

function XTick(props: any) {
  const { x, y, payload, showLabel } = props;
  const major = payload.value % 50 === 0;
  return (
    <g>
      <line x1={x} y1={y} x2={x} y2={y + (major ? 9 : 4.5)} stroke={AXIS} strokeWidth={1.2} />
      {showLabel && major && (
        <text x={x} y={y + 27} textAnchor="middle" fontFamily="Lato" fontSize={23} fill="#000">
          {payload.value}
        </text>
      )}
    </g>
  );
}

function YTick(props: any) {
  const { x, y, payload } = props;
  const v = payload.value;
  const end = Math.abs(v - 0.2) < 1e-6 || Math.abs(v - 0.7) < 1e-6;
  return (
    <g>
      <line x1={x - (end ? 9 : 6)} y1={y} x2={x} y2={y} stroke={AXIS} strokeWidth={1.2} />
      {end && (
        <text x={x - 13} y={y} dy="0.36em" textAnchor="end" fontFamily="Open Sans" fontSize={22.5} fill="#000">
          {v.toFixed(1)}
        </text>
      )}
    </g>
  );
}

function NoteText({ cx, cy, text }: { cx: number; cy: number; text: string }) {
  const star = text[0] === "*";
  return (
    <text x={cx} y={star ? cy + 9 : cy} textAnchor="middle" fontFamily="Liberation Sans"
      fontSize={star ? 15.5 : 17} fill="#000">
      {text}
    </text>
  );
}

function Panel({ i }: { i: number }) {
  const top = TOPS[i];
  const bottom = BOTTOMS[i];
  const last = i === SERIES.length - 1;
  const mt = 40;
  const mb = last ? 75 : 32;
  const rows = toRows(SERIES[i]);
  return (
    <div style={{ position: "absolute", left: 0, top: top - mt }}>
      <LineChart width={W} height={bottom - top + mt + mb} data={rows}
        margin={{ top: mt, right: W - PLOT_RIGHT, bottom: 0, left: 0 }}>
        {stripsFor(i).map((s, k) => (
          <ReferenceArea key={"s" + k} x1={s.x1} x2={s.x2} y1={s.y1} y2={s.y2} fill={s.fill}
            fillOpacity={1} stroke="none" ifOverflow="visible" />
        ))}
        <XAxis type="number" dataKey="x" domain={[0, X_MAX]} ticks={X_TICKS} interval={0} allowDataOverflow
          height={mb} tickSize={0} tickMargin={0} tickLine={false}
          axisLine={{ stroke: AXIS, strokeWidth: 1.5 }}
          tick={(p: any) => <XTick {...p} showLabel={last} />} />
        <YAxis type="number" domain={[0.2, 0.7]} ticks={Y_TICKS} interval={0} allowDataOverflow
          width={PLOT_LEFT} tickSize={0} tickMargin={0} tickLine={false}
          axisLine={{ stroke: AXIS, strokeWidth: 1.3 }} tick={(p: any) => <YTick {...p} />} />
        {CHROM_ENDS.map((c) => (
          <ReferenceLine key={"c" + c} x={c} stroke="#000" strokeWidth={1.3} ifOverflow="visible" />
        ))}
        <Line type="linear" dataKey="y" stroke={LINE} strokeWidth={1.1} dot={false}
          isAnimationActive={false} connectNulls={false} />
        {NOTES[i].map((n: any, k: number) => (
          <ReferenceDot key={"n" + k} x={n[0]} y={n[1] / 100} ifOverflow="visible"
            shape={(p: any) => <NoteText cx={p.cx} cy={p.cy} text={n[2]} />} />
        ))}
      </LineChart>
    </div>
  );
}

export default function App() {
  return (
    <div style={{ position: "absolute", left: 0, top: 0, width: W, height: H, background: "#fff", overflow: "hidden" }}>
      <svg width={W} height={H} style={{ position: "absolute", left: 0, top: 0 }}>
        {BANDS.map((b, k) => (
          <rect key={k} x={0} y={b.y0} width={39} height={b.y1 - b.y0} fill={b.fill} />
        ))}
      </svg>
      {SERIES.map((_, i) => <Panel key={i} i={i} />)}
      <svg width={W} height={H} style={{ position: "absolute", left: 0, top: 0, pointerEvents: "none" }}>
        {BANDS.map((b, k) => (
          <text key={k} transform={`translate(19.5, ${b.cy}) rotate(-90)`} textAnchor="middle" dy="0.36em"
            fontFamily="Open Sans" fontSize={b.fs} fill="#000">
            {b.parts.map((p: any, j: number) => (
              <tspan key={j} fontStyle={p[1] ? "italic" : "normal"}>{p[0]}</tspan>
            ))}
          </text>
        ))}
        {CHROM_NAMES.map((c, k) => (
          <text key={c} x={px(CHROM_MIDS[k])} y={32} textAnchor="middle" fontFamily="Open Sans" fontSize={22}>{c}</text>
        ))}
        {TITLES.map((t, i) => (
          <text key={i} x={100} y={TOPS[i] - 11} fontFamily="Open Sans" fontStyle="italic" fontSize={19} fill="#000">
            {t[0] + " v " + t[1]}
          </text>
        ))}
        <text x={758} y={1908} textAnchor="middle" fontFamily="Lato" fontSize={25} fill="#000">
          Cumulative chromosome length (Mbp)
        </text>
      </svg>
    </div>
  );
}
